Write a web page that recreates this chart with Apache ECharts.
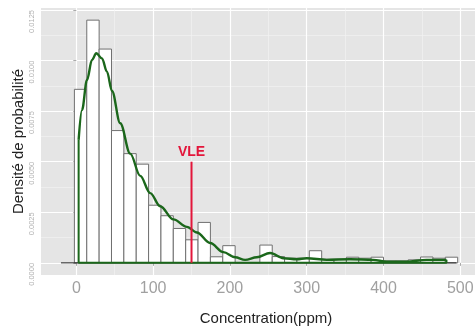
<!DOCTYPE html>
<html>
<head>
<meta charset="utf-8">
<script src="https://cdn.jsdelivr.net/npm/echarts@6/dist/echarts.min.js"></script>
<style>
  html, body { margin: 0; padding: 0; background: #fff; }
  #chart { width: 475px; height: 329px; }
</style>
</head>
<body>
<div id="chart"></div>
<script>
// histogram: regular bins, density per bin
const binStart = -2.5;
const binWidth = 16.1;
const binDensity = [
  0.00858, 0.0120, 0.01057, 0.00654, 0.0054, 0.00488, 0.00285, 0.00233,
  0.0017, 0.00114, 0.0020, 0.0003, 0.00085, 0, 0, 0.00088,
  0.00031, 0.00023, 0.00023, 0.0006, 0.00018, 0.00018, 0.00028, 0.00023,
  0.00028, 0.0001, 0.0001, 0.00015, 0.00029, 0.00023, 0.00028,
];

// kernel density estimate
const densityX = [3, 7.4, 13.9, 20.4, 26, 33.4, 39.9, 46.4, 57.2, 70.2, 83.2, 96.2,
  109.2, 126.5, 144, 157, 174.3, 191.5, 206.8, 219.8, 235, 252.3, 269.6, 287,
  300, 326, 356.3, 386.6, 404, 430, 456, 482];
const densityY = [0.00608, 0.00756, 0.00904, 0.01003, 0.01036, 0.01011, 0.00945, 0.0085,
  0.0069, 0.0054, 0.0043, 0.00345, 0.0028, 0.00215, 0.00178, 0.0015,
  0.00098, 0.00053, 0.00028, 0.00015, 0.00028, 0.00049, 0.00023, 0.00018,
  0.00023, 0.00015, 0.00018, 0.00015, 0.00006, 0.00006, 0.00015, 0.00015];

const vleValue = 150;
const vleTop = 0.005;
const zeroLineX = [-20, 495];

const xTicks = [0, 100, 200, 300, 400, 500];
const xMinorTicks = [50, 150, 250, 350, 450];
const yTicks = [0, 0.0025, 0.005, 0.0075, 0.01, 0.0125];
const yMinorTicks = [0.00125, 0.00375, 0.00625, 0.00875, 0.01125];

const font = "'Liberation Sans', Arial, sans-serif";
const xMin = -46, xMax = 540, yMin = -0.0006, yMax = 0.0126;

const bins = binDensity.map((d, i) => [binStart + i * binWidth, binStart + (i + 1) * binWidth, d]);
const curve = densityX.map((x, i) => [x, densityY[i]]);
const last = curve.length - 1;
const closing = [
  [densityX[last], densityY[last]], [densityX[last], 0], [densityX[0], 0], [densityX[0], densityY[0]],
];

const chart = echarts.init(document.getElementById('chart'));

chart.setOption({
  animation: false,
  grid: {
    // the panel runs past the right edge of the picture
    left: 41, right: -16, top: 8, bottom: 54,
    outerBoundsMode: 'none', containLabel: false,
    show: true, backgroundColor: '#e5e5e5', borderWidth: 0,
  },
  xAxis: [
    {
      type: 'value', min: xMin, max: xMax,
      name: 'Concentration(ppm)', nameLocation: 'middle', nameGap: 36,
      nameTextStyle: { color: '#222', fontSize: 15, fontFamily: font },
      axisLine: { show: false },
      axisTick: { show: true, customValues: xTicks, length: 3, lineStyle: { color: '#aaa' } },
      axisLabel: { customValues: xTicks, color: '#a0a0a0', fontSize: 16, fontFamily: font, margin: 6 },
      splitLine: { show: true, lineStyle: { color: '#fff', width: 1.2 } },
    },
    {
      type: 'value', min: xMin, max: xMax, position: 'bottom',
      axisLine: { show: false },
      axisTick: { show: false, customValues: xMinorTicks },
      axisLabel: { show: false, customValues: xMinorTicks },
      splitLine: { show: true, lineStyle: { color: '#f4f4f4', width: 0.6 } },
    },
  ],
  yAxis: [
    {
      type: 'value', min: yMin, max: yMax,
      name: 'Densité de probabilité', nameLocation: 'middle', nameGap: 15, nameMoveOverlap: false,
      nameTextStyle: { color: '#222', fontSize: 15, fontFamily: font },
      axisLine: { show: false },
      axisTick: { show: true, customValues: yTicks, length: 3, lineStyle: { color: '#aaa' } },
      axisLabel: {
        customValues: yTicks, rotate: 90, align: 'right', verticalAlign: 'middle',
        color: '#b0b0b0', fontSize: 7.5, fontFamily: font, margin: 9,
        formatter: (v) => v.toFixed(4),
      },
      splitLine: { show: true, lineStyle: { color: '#fff', width: 1.2 } },
    },
    {
      type: 'value', min: yMin, max: yMax, position: 'left',
      axisLine: { show: false },
      axisTick: { show: false, customValues: yMinorTicks },
      axisLabel: { show: false, customValues: yMinorTicks },
      splitLine: { show: true, lineStyle: { color: '#f4f4f4', width: 0.6 } },
    },
  ],
  series: [
    {
      // reference line at zero
      type: 'line', symbol: 'none', silent: true,
      data: zeroLineX.map((x) => [x, 0]),
      lineStyle: { color: '#222', width: 1 },
    },
    {
      type: 'custom',
      data: bins,
      renderItem: (params, api) => {
        const p0 = api.coord([api.value(0), api.value(2)]);
        const p1 = api.coord([api.value(1), 0]);
        return {
          type: 'rect',
          shape: { x: p0[0], y: p0[1], width: p1[0] - p0[0], height: p1[1] - p0[1] },
          style: { fill: '#fff', stroke: '#707070', lineWidth: 1 },
        };
      },
    },
    {
      type: 'line', symbol: 'none', smooth: 0.35, smoothMonotone: 'x',
      data: curve,
      lineStyle: { color: '#1b671b', width: 2.4 },
    },
    {
      type: 'line', symbol: 'none',
      data: closing,
      lineStyle: { color: '#1b671b', width: 2 },
    },
    {
      type: 'line', symbol: 'circle', symbolSize: 0, showSymbol: true,
      data: [[vleValue, 0], { value: [vleValue, vleTop], label: {
        show: true, position: 'top', distance: 3, formatter: 'VLE',
        color: '#e3163b', fontSize: 14, fontWeight: 'bold', fontFamily: font,
      } }],
      lineStyle: { color: '#e3163b', width: 2 },
    },
  ],
});
</script>
</body>
</html>
